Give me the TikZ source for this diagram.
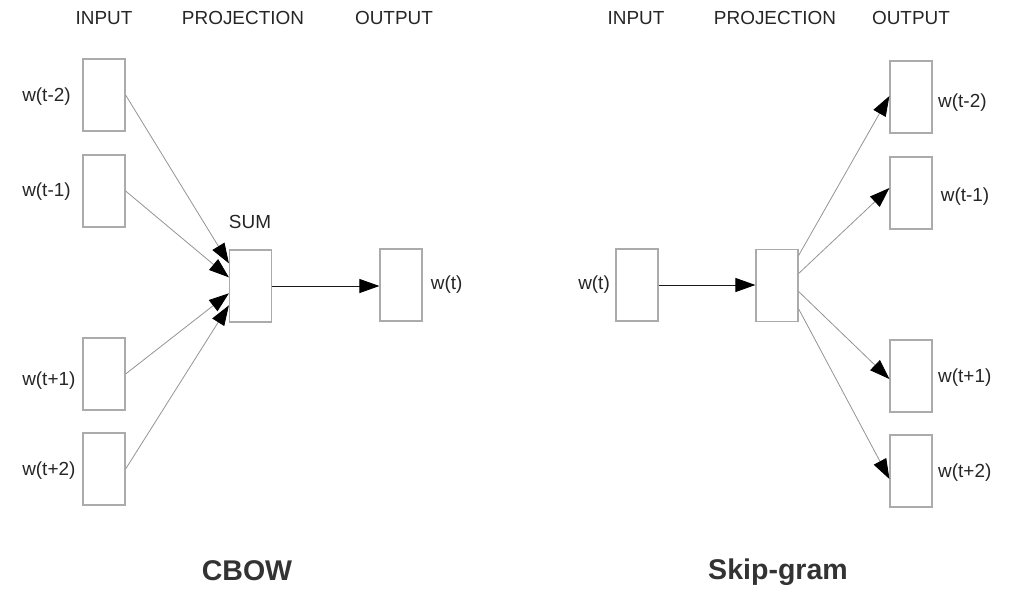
\documentclass[tikz,border=0pt]{standalone}
\usepackage{fontspec}
\setmainfont{Liberation Sans}
\usetikzlibrary{arrows.meta,positioning}
\tikzset{
	wbox/.style={draw=black!33, line width=0.9pt, minimum width=31.5pt, minimum height=54pt, inner sep=0pt},
	wlabel/.style={text=black!85, font=\fontsize{14.2}{16}\selectfont, inner sep=0pt},
	title/.style={text=black!80, font=\bfseries\fontsize{21.4}{24}\selectfont, inner sep=0pt},
	link/.style={draw=black!42, line width=0.6pt, -{Triangle[length=15pt,width=10.5pt,color=black]}},
	mainlink/.style={draw=black!90, line width=0.75pt, -{Triangle[length=15pt,width=10.5pt,color=black]}}
}

\begin{document}
\begin{tikzpicture}[x=0.75pt, y=-0.75pt]
			%%%%% START %%%%%
			
			\fill[white] (0, 0) rectangle (1010, 608);
			\useasboundingbox (0, 0) rectangle (1010, 608);
			
			% CBOW
			\node[wlabel] (cinput) at (104, 18) {INPUT};
			\node[wlabel] (cproj) at (243, 18) {PROJECTION};
			\node[wlabel] (coutput) at (394, 18) {OUTPUT};
			
			\node[wbox] (cin1) at (104, 95) {};
			\node[wbox] (cin2) at (104, 191) {};
			\node[wbox] (cin3) at (104, 374) {};
			\node[wbox] (cin4) at (104, 469) {};
			\node[wlabel, anchor=west] (lcin1) at (22, 97) {w(t-2)};
			\node[wlabel, anchor=west] (lcin2) at (22, 192) {w(t-1)};
			\node[wlabel, anchor=west] (lcin3) at (22, 381) {w(t+1)};
			\node[wlabel, anchor=west] (lcin4) at (22, 471) {w(t+2)};
			
			\node[wbox] (sum) at (250.5, 286) {};
			\node[wlabel] (lsum) at (250, 222) {SUM};
			
			\node[wbox] (cout) at (401, 285) {};
			\node[wlabel, right=6pt of cout.east, anchor=west] (lcout) {w(t)};
			
			\draw[link] (cin1.east) -- ([yshift=17pt]sum.west);
			\draw[link] (cin2.east) -- ([yshift=6.5pt]sum.west);
			\draw[link] (cin3.east) -- ([yshift=-5.5pt]sum.west);
			\draw[link] (cin4.east) -- ([yshift=-14.5pt]sum.west);
			\draw[mainlink] (sum.east) -- (cout.west |- sum.east);
			
			\node[title] (cbow) at (247, 571) {CBOW};
			
			% Skip-gram
			\node[wlabel] (sinput) at (636, 18) {INPUT};
			\node[wlabel] (sproj) at (775, 18) {PROJECTION};
			\node[wlabel] (soutput) at (911, 18) {OUTPUT};
			
			\node[wbox] (sin) at (637, 285) {};
			\node[wlabel, left=4pt of sin.west, anchor=east] (lsin) {w(t)};
			
			\node[wbox] (proj) at (777, 285.5) {};
			
			\node[wbox] (sout1) at (911, 97) {};
			\node[wbox] (sout2) at (911, 193) {};
			\node[wbox] (sout3) at (911, 376) {};
			\node[wbox] (sout4) at (911, 471) {};
			\node[wlabel, right=4pt of sout1.east, anchor=west, yshift=-4pt] (lsout1) {w(t-2)};
			\node[wlabel, right=6pt of sout2.east, anchor=west, yshift=-2.5pt] (lsout2) {w(t-1)};
			\node[wlabel, right=4pt of sout3.east, anchor=west, yshift=-1pt] (lsout3) {w(t+1)};
			\node[wlabel, right=4pt of sout4.east, anchor=west, yshift=-1.5pt] (lsout4) {w(t+2)};
			
			\draw[mainlink] (sin.east) -- (proj.west |- sin.east);
			\draw[link] ([yshift=22.5pt]proj.east) -- ([yshift=0.75pt]sout1.west);
			\draw[link] ([yshift=9pt]proj.east) -- ([yshift=3.75pt]sout2.west);
			\draw[link] ([yshift=-4.5pt]proj.east) -- ([yshift=-2.25pt]sout3.west);
			\draw[link] ([yshift=-17.5pt]proj.east) -- ([yshift=-6pt]sout4.west);
			
			\node[title] (skip) at (778, 572) {Skip-gram};
			
			%%%%% END %%%%%
\end{tikzpicture}
\end{document}
